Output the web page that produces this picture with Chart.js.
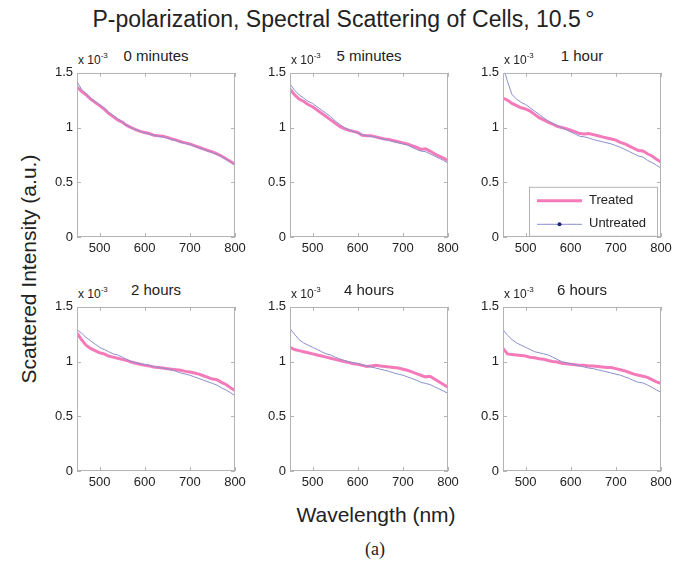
<!DOCTYPE html>
<html>
<head>
<meta charset="utf-8">
<script src="https://cdn.jsdelivr.net/npm/chart.js@4/dist/chart.umd.min.js"></script>
<style>
  html,body{margin:0;padding:0;background:#fff;}
  body{width:687px;height:563px;position:relative;overflow:hidden;font-family:'Liberation Sans',Arial,Helvetica,sans-serif;color:#222;}
  .abs{position:absolute;white-space:nowrap;line-height:1;}
  canvas{position:absolute;}
  .ptitle{font-size:15px;text-align:center;width:158px;}
  .pexp{font-size:12px;}
  .pexp sup{font-size:8px;position:relative;top:-2px;vertical-align:top;}
</style>
</head>
<body>
<div class="abs" style="left:0;top:8px;width:687px;text-align:center;font-size:23px;">P-polarization, Spectral Scattering of Cells, 10.5&thinsp;°</div>
<div class="abs" style="left:28px;top:269px;font-size:21px;transform:translate(-50%,-50%) rotate(-90deg);">Scattered Intensity (a.u.)</div>
<div class="abs" style="left:376px;top:514px;font-size:21px;transform:translate(-50%,-50%);">Wavelength (nm)</div>
<div class="abs" style="left:375px;top:549px;font-size:18px;font-family:'Liberation Serif','Times New Roman',serif;transform:translate(-50%,-50%);">(a)</div>
<div id="root"></div>
<script>
// ---- data (intensity in units of 1e-3) ----
const wavelengths = [450,460,470,480,490,500,510,520,530,540,550,560,570,580,590,600,610,620,630,640,650,660,670,680,690,700,710,720,730,740,750,760,770,780,790,800];
const panelTitles = ["0 minutes","5 minutes","1 hour","2 hours","4 hours","6 hours"];
const xTickValues = [500,600,700,800];
const yTickValues = [0,0.5,1,1.5];
const seriesNames = ["Treated","Untreated"];

const treated0m = [1.37,1.33,1.30,1.26,1.23,1.20,1.17,1.13,1.10,1.07,1.05,1.02,1.00,0.98,0.965,0.955,0.945,0.93,0.925,0.92,0.91,0.895,0.885,0.87,0.86,0.85,0.835,0.82,0.805,0.79,0.778,0.76,0.74,0.715,0.69,0.665];
const untreated0m = [1.42,1.35,1.31,1.27,1.24,1.21,1.18,1.14,1.11,1.08,1.05,1.02,1.00,0.98,0.965,0.95,0.94,0.93,0.92,0.915,0.905,0.89,0.88,0.865,0.855,0.845,0.83,0.815,0.80,0.785,0.77,0.755,0.735,0.71,0.685,0.655];

const treated5m = [1.35,1.30,1.26,1.24,1.21,1.19,1.16,1.13,1.10,1.07,1.04,1.01,0.99,0.975,0.965,0.955,0.93,0.925,0.925,0.915,0.905,0.895,0.89,0.88,0.87,0.86,0.85,0.835,0.82,0.80,0.805,0.785,0.76,0.74,0.72,0.70];
const untreated5m = [1.40,1.34,1.30,1.27,1.24,1.22,1.19,1.16,1.13,1.10,1.06,1.03,1.00,0.98,0.965,0.95,0.935,0.925,0.92,0.91,0.90,0.89,0.88,0.87,0.86,0.85,0.84,0.82,0.80,0.785,0.78,0.76,0.74,0.72,0.70,0.675];

const treated1h = [1.27,1.25,1.22,1.20,1.18,1.17,1.15,1.12,1.09,1.07,1.05,1.03,1.01,1.00,0.99,0.975,0.96,0.945,0.94,0.945,0.935,0.925,0.915,0.905,0.895,0.885,0.865,0.85,0.83,0.81,0.79,0.785,0.76,0.74,0.71,0.685];
const untreated1h = [1.56,1.42,1.30,1.26,1.23,1.21,1.18,1.15,1.12,1.09,1.06,1.04,1.02,1.00,0.98,0.96,0.94,0.92,0.915,0.905,0.89,0.88,0.87,0.86,0.85,0.835,0.82,0.80,0.78,0.76,0.74,0.73,0.70,0.68,0.655,0.63];

const treated2h = [1.26,1.20,1.15,1.12,1.10,1.08,1.07,1.05,1.04,1.03,1.02,1.01,0.995,0.985,0.975,0.965,0.96,0.95,0.945,0.94,0.935,0.93,0.925,0.92,0.91,0.905,0.895,0.885,0.87,0.855,0.84,0.835,0.81,0.79,0.76,0.735];
const untreated2h = [1.29,1.26,1.22,1.19,1.16,1.13,1.11,1.09,1.07,1.06,1.04,1.02,1.00,0.99,0.98,0.975,0.965,0.955,0.945,0.94,0.935,0.925,0.91,0.895,0.885,0.875,0.86,0.845,0.83,0.815,0.80,0.785,0.76,0.74,0.715,0.69];

const treated4h = [1.13,1.11,1.10,1.09,1.08,1.07,1.06,1.05,1.04,1.03,1.02,1.01,1.00,0.99,0.98,0.975,0.965,0.955,0.96,0.965,0.96,0.955,0.95,0.945,0.94,0.93,0.92,0.905,0.89,0.875,0.86,0.865,0.84,0.815,0.79,0.765];
const untreated4h = [1.30,1.25,1.20,1.17,1.15,1.13,1.11,1.09,1.07,1.06,1.04,1.025,1.01,1.00,0.99,0.98,0.97,0.96,0.95,0.94,0.93,0.92,0.91,0.895,0.885,0.875,0.86,0.845,0.83,0.81,0.80,0.79,0.77,0.75,0.73,0.71];

const treated6h = [1.12,1.07,1.065,1.06,1.055,1.05,1.04,1.035,1.025,1.02,1.01,1.00,0.995,0.985,0.98,0.975,0.97,0.965,0.965,0.96,0.96,0.955,0.95,0.945,0.945,0.935,0.925,0.915,0.90,0.885,0.875,0.865,0.855,0.835,0.815,0.80];
const untreated6h = [1.29,1.24,1.20,1.17,1.15,1.13,1.11,1.09,1.08,1.07,1.06,1.04,1.02,1.00,0.99,0.98,0.97,0.96,0.95,0.94,0.935,0.925,0.915,0.905,0.895,0.885,0.875,0.86,0.845,0.825,0.81,0.805,0.785,0.765,0.74,0.72];

const treatedSeries = [treated0m,treated5m,treated1h,treated2h,treated4h,treated6h];
const untreatedSeries = [untreated0m,untreated5m,untreated1h,untreated2h,untreated4h,untreated6h];

// ---- layout ----
const plotLefts = [77,290,503];
const plotTops = [71,305];
const PW = 158, PH = 166;
const YAXW = 45, TOPPAD = 10, XAXH = 25, RIGHTPAD = 15;
const TREATED_COLOR = '#f47ab9';
const UNTREATED_COLOR = '#8a90cc';
const BOX_COLOR = '#b4b4b4';

const boxPlugin = {
  id: 'matlabBox',
  afterDraw(chart) {
    const {ctx, chartArea: a, scales} = chart;
    ctx.save();
    ctx.strokeStyle = BOX_COLOR;
    ctx.lineWidth = 1;
    ctx.strokeRect(Math.round(a.left)+0.5, Math.round(a.top)+0.5, Math.round(a.right-a.left)-1, Math.round(a.bottom-a.top)-1);
    const tl = 4;
    ctx.beginPath();
    scales.x.ticks.forEach(t => {
      const px = Math.round(scales.x.getPixelForValue(t.value)) + 0.5;
      ctx.moveTo(px, a.bottom); ctx.lineTo(px, a.bottom - tl);
      ctx.moveTo(px, a.top); ctx.lineTo(px, a.top + tl);
    });
    scales.y.ticks.forEach(t => {
      const py = Math.round(scales.y.getPixelForValue(t.value)) + 0.5;
      ctx.moveTo(a.left, py); ctx.lineTo(a.left + tl, py);
      ctx.moveTo(a.right, py); ctx.lineTo(a.right - tl, py);
    });
    ctx.stroke();
    const lg = chart.options.plugins.matlabBox && chart.options.plugins.matlabBox.legend;
    if (lg) {
      const bx = a.left + 26, by = a.top + 114, bw = 128, bh = 49;
      ctx.fillStyle = '#fff';
      ctx.fillRect(bx, by, bw, bh);
      ctx.strokeStyle = BOX_COLOR;
      ctx.strokeRect(bx + 0.5, by + 0.5, bw, bh);
      // Treated
      ctx.strokeStyle = TREATED_COLOR; ctx.lineWidth = 3;
      ctx.beginPath(); ctx.moveTo(bx + 8, by + 14); ctx.lineTo(bx + 53, by + 14); ctx.stroke();
      // Untreated
      ctx.strokeStyle = UNTREATED_COLOR; ctx.lineWidth = 1;
      ctx.beginPath(); ctx.moveTo(bx + 8, by + 37.5); ctx.lineTo(bx + 53, by + 37.5); ctx.stroke();
      ctx.fillStyle = '#1a237e';
      ctx.beginPath(); ctx.arc(bx + 30.5, by + 37.5, 2, 0, Math.PI*2); ctx.fill();
      ctx.fillStyle = '#222';
      ctx.font = "13px 'Liberation Sans', Arial, sans-serif";
      ctx.textBaseline = 'middle';
      ctx.fillText(seriesNames[0], bx + 60, by + 14);
      ctx.fillText(seriesNames[1], bx + 60, by + 37);
    }
    ctx.restore();
  }
};

const root = document.getElementById('root');
for (let i = 0; i < 6; i++) {
  const col = i % 3, row = Math.floor(i / 3);
  const pl = plotLefts[col], pt = plotTops[row];
  // panel title & exponent
  const t = document.createElement('div');
  t.className = 'abs ptitle';
  t.style.left = pl + 'px';
  t.style.top = (pt - 10 - 12.7) + 'px';
  t.textContent = panelTitles[i];
  root.appendChild(t);
  const e = document.createElement('div');
  e.className = 'abs pexp';
  e.style.left = (pl + 1) + 'px';
  e.style.top = (pt - 7 - 10.2) + 'px';
  e.innerHTML = 'x 10<sup>-3</sup>';
  root.appendChild(e);

  const c = document.createElement('canvas');
  const W = YAXW + PW + RIGHTPAD, H = TOPPAD + PH + XAXH;
  c.width = W; c.height = H;
  c.style.width = W + 'px'; c.style.height = H + 'px';
  c.style.left = (pl - YAXW) + 'px';
  c.style.top = (pt - TOPPAD) + 'px';
  root.appendChild(c);

  new Chart(c.getContext('2d'), {
    type: 'line',
    data: {
      datasets: [
        { label: seriesNames[1], data: wavelengths.map((x, k) => ({x, y: untreatedSeries[i][k]})),
          borderColor: UNTREATED_COLOR, borderWidth: 1, pointRadius: 0, tension: 0, fill: false },
        { label: seriesNames[0], data: wavelengths.map((x, k) => ({x, y: treatedSeries[i][k]})),
          borderColor: TREATED_COLOR, borderWidth: 3, pointRadius: 0, tension: 0, fill: false }
      ]
    },
    options: {
      responsive: false,
      animation: false,
      devicePixelRatio: 1,
      events: [],
      layout: { padding: { left: 0, top: TOPPAD, right: RIGHTPAD, bottom: 0 }, autoPadding: false },
      plugins: {
        legend: { display: false },
        tooltip: { enabled: false },
        title: { display: false },
        matlabBox: { legend: i === 2 }
      },
      scales: {
        x: {
          type: 'linear', min: 450, max: 800,
          afterBuildTicks: s => { s.ticks = xTickValues.map(v => ({value: v})); },
          afterFit: s => { s.height = XAXH; },
          grid: { display: false, drawTicks: false },
          border: { display: false },
          ticks: { color: '#222', padding: 4, maxRotation: 0, autoSkip: false,
                   font: { size: 13, family: "'Liberation Sans', Arial, sans-serif" },
                   callback: v => String(v) }
        },
        y: {
          type: 'linear', min: 0, max: 1.5,
          afterBuildTicks: s => { s.ticks = yTickValues.map(v => ({value: v})); },
          afterFit: s => { s.width = YAXW; },
          grid: { display: false, drawTicks: false },
          border: { display: false },
          ticks: { color: '#222', padding: 4,
                   font: { size: 13, family: "'Liberation Sans', Arial, sans-serif" },
                   callback: v => String(v) }
        }
      }
    },
    plugins: [boxPlugin]
  });
}
</script>
</body>
</html>
